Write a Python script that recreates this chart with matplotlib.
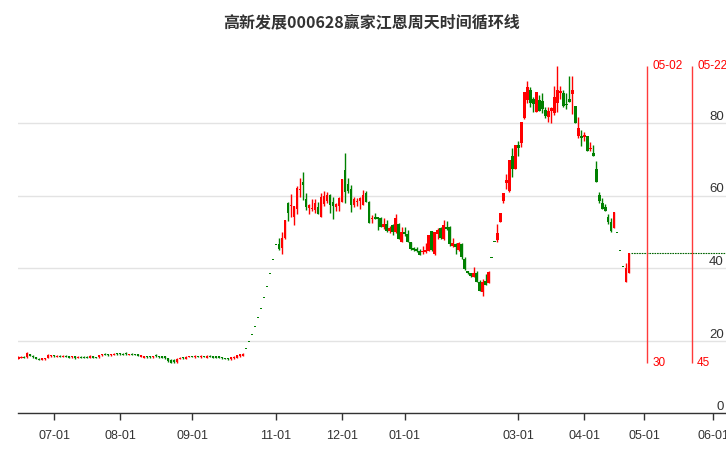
import numpy as np
import matplotlib
matplotlib.use("Agg")
import matplotlib.pyplot as plt

plt.rcParams["font.family"] = ["Liberation Sans", "DejaVu Sans"]

TITLE = "高新发展000628赢家江恩周天时间循环线"

# 日K 数据, 交易日序号 0..204
OPEN = [
    15.0, 15.3, 15.4, 15.4, 16.3, 15.8, 15.4, 15.0, 14.7, 14.9,
    15.2, 15.6, 16.0, 15.5, 15.8, 15.5, 15.8, 15.7, 15.4, 15.6,
    15.2, 15.5, 15.5, 15.4, 15.3, 15.6, 15.4, 15.4, 15.9, 16.3,
    16.2, 15.9, 16.1, 16.4, 16.4, 16.3, 16.5, 16.1, 16.4, 16.1,
    16.2, 15.5, 15.3, 15.7, 15.7, 15.4, 15.9, 15.7, 15.6, 15.6,
    15.2, 14.6, 14.6, 14.1, 15.0, 15.3, 15.0, 15.5, 15.6, 15.4,
    15.7, 15.4, 15.7, 15.3, 15.8, 15.6, 15.6, 15.5, 15.3, 15.2,
    15.2, 14.8, 15.1, 15.3, 15.6, 15.7, 17.9, 19.7, 21.7, 23.9,
    26.3, 28.9, 31.8, 35.0, 38.5, 42.4, 46.6, 46.5, 45.6, 48.2,
    57.9, 57.0, 54.1, 56.3, 61.5, 63.6, 58.9, 56.6, 56.3, 56.1,
    56.9, 54.1, 57.6, 58.5, 60.1, 58.3, 56.7, 57.0, 58.3, 67.1,
    63.2, 61.9, 57.3, 58.2, 58.6, 57.4, 60.6, 58.3, 53.6, 54.1,
    54.0, 53.9, 51.2, 52.1, 50.1, 52.0, 49.9, 52.1, 47.3, 50.0,
    49.3, 47.1, 45.4, 45.2, 44.7, 44.5, 44.6, 44.8, 50.1, 44.0,
    49.3, 50.9, 47.9, 51.2, 51.2, 46.1, 46.6, 44.9, 46.5, 42.6,
    39.3, 38.5, 37.6, 38.5, 36.1, 33.3, 36.4, 35.8, 42.9, 47.3,
    47.7, 52.6, 58.6, 63.4, 61.3, 70.9, 67.2, 74.0, 74.6, 81.3,
    86.3, 89.1, 86.5, 83.0, 86.4, 86.2, 83.5, 81.7, 83.3, 82.7,
    85.4, 88.4, 88.4, 85.2, 86.5, 88.0, 84.7, 76.4, 76.4, 76.2,
    76.4, 72.7, 71.6, 67.2, 60.1, 57.8, 56.9, 54.1, 52.8, 51.1,
    49.8, 44.9, 40.5, 36.2, 38.7,
]
HIGH = [
    15.6, 15.7, 15.6, 16.9, 16.4, 16.0, 15.5, 15.1, 15.2, 15.3,
    16.2, 16.1, 16.1, 15.9, 15.9, 15.9, 16.0, 15.8, 15.7, 15.7,
    15.6, 15.7, 15.6, 15.6, 15.9, 15.7, 15.5, 16.0, 16.3, 16.5,
    16.3, 16.4, 16.5, 16.5, 16.6, 16.5, 16.7, 16.3, 16.5, 16.2,
    16.3, 16.1, 15.8, 15.8, 15.8, 15.8, 16.2, 15.8, 15.8, 15.7,
    15.3, 14.8, 14.9, 15.1, 15.4, 15.4, 15.6, 15.7, 15.7, 15.9,
    15.8, 15.9, 15.8, 15.9, 15.9, 15.7, 15.7, 15.6, 15.4, 15.3,
    15.3, 15.5, 15.6, 16.0, 16.3, 16.6, 17.9, 19.7, 21.7, 23.9,
    26.3, 28.9, 31.8, 35.0, 38.5, 42.4, 46.6, 48.4, 49.9, 53.3,
    58.3, 60.4, 57.2, 62.5, 64.7, 66.5, 60.6, 57.6, 58.9, 59.0,
    58.2, 60.7, 61.2, 61.0, 60.4, 59.7, 57.9, 59.5, 64.6, 71.6,
    64.7, 62.9, 59.7, 59.2, 59.6, 61.5, 61.3, 58.5, 54.7, 55.2,
    54.2, 54.0, 53.8, 53.2, 51.5, 52.1, 54.9, 52.3, 51.2, 51.2,
    50.6, 47.3, 45.8, 45.7, 45.2, 46.2, 46.8, 49.1, 50.3, 49.9,
    51.0, 51.2, 53.2, 52.9, 51.6, 48.2, 47.0, 47.2, 46.8, 42.9,
    39.3, 38.7, 40.3, 39.3, 36.6, 37.1, 38.4, 39.2, 42.9, 47.3,
    52.1, 55.1, 60.8, 65.9, 69.8, 73.0, 74.0, 74.9, 80.3, 88.5,
    91.6, 89.8, 87.1, 88.5, 87.7, 88.2, 84.5, 84.5, 84.5, 90.2,
    95.7, 90.2, 89.1, 88.2, 93.0, 93.0, 84.7, 81.6, 78.2, 77.6,
    76.4, 74.8, 73.9, 69.5, 60.9, 59.3, 57.6, 55.0, 53.7, 55.4,
    49.8, 44.9, 40.5, 41.3, 44.1,
]
LOW = [
    14.9, 15.2, 15.2, 15.2, 15.6, 15.2, 14.9, 14.5, 14.5, 14.6,
    15.1, 15.5, 15.5, 15.4, 15.4, 15.4, 15.5, 15.2, 15.3, 15.0,
    15.1, 15.2, 15.2, 15.2, 15.2, 15.2, 15.2, 15.3, 15.8, 16.0,
    15.8, 15.8, 16.0, 16.1, 16.1, 16.1, 16.1, 16.0, 15.9, 15.9,
    15.7, 15.4, 15.2, 15.3, 15.3, 15.3, 15.5, 15.3, 15.1, 14.9,
    14.2, 13.7, 13.8, 13.9, 14.9, 15.0, 14.9, 15.4, 15.4, 15.3,
    15.5, 15.3, 15.5, 15.2, 15.4, 15.2, 15.2, 15.3, 15.0, 15.0,
    14.7, 14.7, 15.0, 15.2, 15.5, 15.6, 17.9, 19.7, 21.7, 23.9,
    26.3, 28.9, 31.8, 35.0, 38.5, 42.4, 46.6, 44.9, 43.9, 48.0,
    53.0, 54.0, 52.0, 54.9, 59.5, 58.8, 56.1, 55.0, 55.7, 55.3,
    55.0, 54.0, 57.2, 58.0, 55.3, 53.6, 55.6, 55.8, 58.3, 57.8,
    60.6, 55.5, 56.9, 57.2, 56.4, 57.4, 58.1, 52.5, 52.5, 53.4,
    50.6, 51.2, 50.7, 50.0, 49.7, 49.2, 49.7, 48.1, 47.3, 48.8,
    47.3, 45.0, 44.7, 44.4, 43.7, 44.0, 44.2, 44.8, 44.8, 43.6,
    48.0, 48.1, 47.7, 50.5, 46.2, 45.9, 44.0, 44.8, 42.6, 39.4,
    38.4, 37.6, 37.4, 36.2, 33.6, 32.3, 35.3, 35.8, 42.9, 47.3,
    47.2, 52.6, 57.8, 61.7, 61.0, 65.2, 67.2, 70.9, 73.3, 81.0,
    85.6, 84.3, 82.9, 83.0, 83.2, 82.7, 81.5, 80.4, 79.9, 82.2,
    83.1, 86.6, 84.5, 84.0, 85.9, 82.4, 79.9, 76.0, 73.6, 75.1,
    72.4, 72.4, 71.0, 63.8, 57.8, 56.3, 55.8, 52.2, 49.8, 51.1,
    49.8, 44.9, 40.5, 36.2, 38.7,
]
CLOSE = [
    15.5, 15.5, 15.3, 16.6, 15.7, 15.4, 15.0, 14.7, 15.1, 15.1,
    15.9, 16.0, 15.6, 15.8, 15.5, 15.8, 15.6, 15.3, 15.6, 15.1,
    15.5, 15.3, 15.3, 15.3, 15.7, 15.3, 15.3, 15.9, 16.2, 16.1,
    15.9, 16.2, 16.4, 16.2, 16.2, 16.2, 16.2, 16.2, 16.0, 16.0,
    15.8, 16.0, 15.7, 15.4, 15.4, 15.7, 15.6, 15.4, 15.2, 15.1,
    14.4, 13.9, 14.0, 15.0, 15.3, 15.1, 15.5, 15.6, 15.5, 15.8,
    15.6, 15.8, 15.6, 15.8, 15.5, 15.3, 15.3, 15.4, 15.1, 15.1,
    14.8, 15.4, 15.5, 15.9, 16.2, 16.3, 17.9, 19.7, 21.7, 23.9,
    26.3, 28.9, 31.8, 35.0, 38.5, 42.4, 46.6, 45.2, 48.2, 53.3,
    55.3, 57.5, 57.1, 62.0, 61.7, 62.9, 56.9, 57.5, 56.5, 57.9,
    55.0, 59.5, 60.0, 60.2, 57.3, 57.2, 57.6, 59.2, 64.6, 61.1,
    61.3, 57.4, 59.0, 58.6, 59.4, 60.1, 58.3, 52.5, 53.9, 53.6,
    53.6, 51.4, 52.1, 50.3, 51.0, 50.0, 53.7, 48.1, 50.0, 49.4,
    47.3, 45.2, 45.0, 44.8, 43.7, 44.6, 44.8, 49.1, 45.0, 49.9,
    50.6, 48.3, 51.8, 50.8, 46.5, 46.8, 45.7, 46.9, 42.9, 39.6,
    38.7, 37.8, 38.7, 36.2, 33.6, 36.2, 35.3, 39.0, 42.9, 47.3,
    49.7, 55.1, 60.6, 64.3, 69.8, 67.2, 74.0, 73.0, 80.3, 88.5,
    90.0, 85.6, 85.3, 88.5, 83.4, 83.8, 82.0, 83.3, 84.2, 87.3,
    89.1, 88.7, 84.8, 84.9, 85.9, 89.1, 79.9, 78.5, 76.0, 76.8,
    72.4, 73.1, 71.0, 63.8, 58.6, 56.3, 55.8, 52.8, 50.3, 55.4,
    49.8, 44.9, 40.5, 39.9, 44.1,
]

TICK_POS = [12, 34, 58, 86, 108, 129, 167, 189, 209, 232]
TICK_LABELS = ["07-01", "08-01", "09-01", "11-01", "12-01",
               "01-01", "03-01", "04-01", "05-01", "06-01"]
Y_TICKS = [0, 20, 40, 60, 80]

# 江恩周天时间循环: 以高点为起点
CYCLE_BASE = 180
CYCLE_DAYS = [30, 45]
CYCLE_DATES = ["05-02", "05-22"]

UP = "#ff0000"
DOWN = "#008000"

fig = plt.figure(figsize=(7.26, 4.5), dpi=100)
ax = fig.add_axes([17.5 / 726, 37 / 450, 708.5 / 726, 362.5 / 450])

o, h, l, c = (np.array(a) for a in (OPEN, HIGH, LOW, CLOSE))
x = np.arange(len(c))
colors = np.where(c > o, UP, DOWN)

# 影线 + 实体
ax.vlines(x, l, h, colors=colors, lw=1.0, zorder=3)
body = np.abs(c - o)
bottom = np.where(body < 0.3, (o + c) / 2 - 0.15, np.minimum(o, c))
ax.bar(x, np.maximum(body, 0.3), bottom=bottom, width=0.8,
       color=colors, linewidth=0, zorder=3)

# 最新收盘价水平线
xmax = 236.3
ax.hlines(c[-1], x[-1] + 0.6, xmax, colors="#006400", lw=0.8,
          linestyles=(0, (1.5, 0.8)), zorder=2)

# 时间循环线
lo, hi = l.min(), h.max()
for days, date in zip(CYCLE_DAYS, CYCLE_DATES):
    pos = CYCLE_BASE + days
    ax.vlines(pos, lo, hi, colors="#ff3a3a", lw=1.0, zorder=2)
    ax.annotate(date, (pos, hi), xytext=(3.5, 0), textcoords="offset points",
                color="#ff0000", fontsize=8.5, va="center", ha="left")
    ax.annotate(str(days), (pos, lo), xytext=(3.5, 0), textcoords="offset points",
                color="#ff0000", fontsize=8.5, va="center", ha="left")

ax.set_xlim(-0.27, xmax)
ax.set_ylim(0, 100)

ax.set_yticks(Y_TICKS)
ax.yaxis.tick_right()
ax.tick_params(axis="y", length=0, pad=-1.5, labelsize=9.5, labelcolor="#333333")
for lab in ax.get_yticklabels():
    lab.set_horizontalalignment("right")
    lab.set_verticalalignment("bottom")
ax.yaxis.grid(True, color="#e3e3e3", lw=1)
ax.set_axisbelow(True)

ax.set_xticks(TICK_POS, TICK_LABELS)
ax.tick_params(axis="x", length=5, width=1, color="#333333",
               labelsize=9, labelcolor="#333333", pad=7)

for s in ("top", "left", "right"):
    ax.spines[s].set_visible(False)
ax.spines["bottom"].set_color("#333333")
ax.spines["bottom"].set_linewidth(1)

fig.text((17.5 + 708.5 / 2) / 726, 1 - 22 / 450, TITLE,
         family=["Noto Sans CJK SC", "DejaVu Sans"], fontweight="bold",
         fontsize=11.5, color="#333333", ha="center", va="center")

fig.savefig("out.png", dpi=100)
